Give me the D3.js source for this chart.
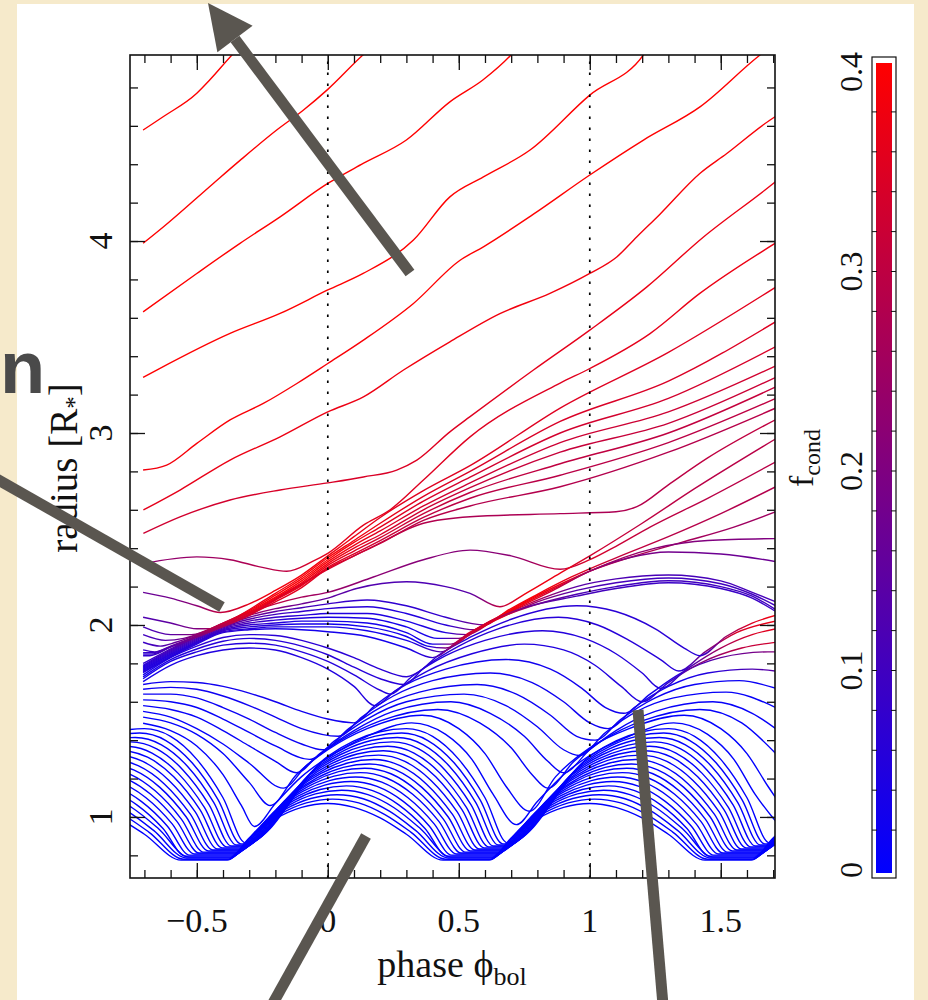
<!DOCTYPE html>
<html><head><meta charset="utf-8">
<script src="https://cdn.jsdelivr.net/npm/d3@7"></script>
<style>body{margin:0;background:#f6eacb}svg{display:block}</style>
</head><body>
<svg id="c" width="928" height="1000"></svg>
<script>
// ---------- tick values / labels ----------
const phaseMinorTicks=[-0.7,-0.6,-0.5,-0.4,-0.3,-0.2,-0.1,0,0.1,0.2,0.3,0.4,0.5,0.6,0.7,0.8,0.9,1.0,1.1,1.2,1.3,1.4,1.5,1.6,1.7];
const phaseMajorTicks=[-0.5,0,0.5,1,1.5];
const phaseTickLabels=["\u22120.5","0","0.5","1","1.5"];
const radiusMinorTicks=[0.8,1.0,1.2,1.4,1.6,1.8,2.0,2.2,2.4,2.6,2.8,3.0,3.2,3.4,3.6,3.8,4.0,4.2,4.4,4.6,4.8];
const radiusMajorTicks=[1,2,3,4];
const radiusTickLabels=["1","2","3","4"];
const fcondMajorTicks=[0,0.1,0.2,0.3,0.4];
const fcondTickLabels=["0","0.1","0.2","0.3","0.4"];
const fcondMinorTicks=[0.02,0.04,0.06,0.08,0.1,0.12,0.14,0.16,0.18,0.2,0.22,0.24,0.26,0.28,0.3,0.32,0.34,0.36,0.38];
const refPhases=[0,1];

// ---------- outer (escaping) shells: [phase, radius, fcond] ----------
const topShells=[
 [[-0.705,4.578,0.4],[-0.63,4.646,0.4],[-0.5,4.77,0.4],[-0.45,4.84,0.4],[-0.365,4.97,0.4],[-0.33,5.02,0.4]],
 [[-0.705,3.988,0.4],[-0.628,4.073,0.4],[-0.437,4.30,0.4],[-0.335,4.42,0.4],[-0.195,4.578,0.4],[-0.095,4.68,0.4],[0,4.79,0.4],[0.135,4.97,0.4],[0.16,5.0,0.4]],
 [[-0.705,3.631,0.4],[-0.5,3.831,0.4],[-0.335,3.988,0.4],[-0.182,4.126,0.4],[0,4.30,0.4],[0.135,4.404,0.4],[0.30,4.526,0.4],[0.466,4.725,0.4],[0.593,4.84,0.4],[0.70,4.97,0.4],[0.72,5.0,0.4]],
 [[-0.705,3.29,0.4],[-0.653,3.328,0.4],[-0.373,3.519,0.4],[-0.182,3.623,0.4],[0,3.745,0.4],[0.135,3.831,0.4],[0.327,4.005,0.4],[0.466,4.23,0.4],[0.594,4.334,0.4],[0.772,4.474,0.4],[1.0,4.76,0.4],[1.205,4.97,0.4],[1.22,5.0,0.4]],
 [[-0.705,2.807,0.38],[-0.615,2.833,0.38],[-0.5,2.946,0.39],[-0.373,3.068,0.39],[-0.246,3.154,0.39],[-0.118,3.258,0.39],[0,3.362,0.39],[0.136,3.484,0.39],[0.327,3.675,0.4],[0.505,3.90,0.4],[0.594,3.97,0.4],[0.785,4.14,0.4],[1.0,4.344,0.4],[1.205,4.526,0.4],[1.422,4.70,0.4],[1.651,4.97,0.4],[1.7,5.02,0.4]],
 [[-0.704,2.599,0.36],[-0.564,2.703,0.36],[-0.373,2.859,0.37],[-0.182,2.98,0.37],[0,3.11,0.37],[0.136,3.188,0.37],[0.289,3.328,0.38],[0.466,3.475,0.38],[0.657,3.622,0.38],[0.848,3.727,0.38],[1.0,3.831,0.38],[1.103,3.917,0.38],[1.179,4.021,0.38],[1.268,4.14,0.39],[1.42,4.352,0.39],[1.523,4.456,0.39],[1.669,4.612,0.39],[1.71,4.65,0.39]],
 [[-0.704,2.477,0.32],[-0.564,2.563,0.33],[-0.373,2.651,0.33],[-0.182,2.703,0.34],[0,2.74,0.34],[0.136,2.771,0.34],[0.263,2.807,0.34],[0.34,2.859,0.35],[0.466,3.006,0.35],[0.543,3.085,0.35],[0.785,3.328,0.36],[1.0,3.536,0.36],[1.217,3.76,0.37],[1.433,4.02,0.37],[1.669,4.266,0.37],[1.71,4.31,0.37]]
];

// ---------- shells lifted by the shock (fan) ----------
const fanShells=[
 [[-0.705,2.32,0.22],[-0.5,2.355,0.24],[-0.373,2.34,0.26],[-0.25,2.3,0.28],[-0.157,2.28,0.3],[-0.06,2.33,0.34],[0,2.373,0.36],[0.136,2.52,0.36],[0.238,2.6,0.35],[0.365,2.755,0.35],[0.543,2.98,0.35],[0.887,3.26,0.35],[1.0,3.336,0.36],[1.23,3.518,0.36],[1.42,3.727,0.37],[1.71,3.99,0.37]],
 [[-0.705,2.17,0.16],[-0.6,2.14,0.18],[-0.5,2.1,0.22],[-0.41,2.065,0.3],[-0.3,2.11,0.36],[-0.2,2.18,0.38],[-0.1,2.26,0.38],[0,2.36,0.38],[0.1,2.46,0.37],[0.2,2.56,0.36],[0.365,2.70,0.35],[0.543,2.83,0.35],[0.887,3.13,0.35],[1.3,3.42,0.35],[1.71,3.76,0.36]],
 [[-0.705,2.04,0.12],[-0.6,2.01,0.15],[-0.5,1.98,0.2],[-0.44,1.98,0.26],[-0.35,2.04,0.34],[-0.2,2.165,0.38],[-0.1,2.25,0.39],[0,2.35,0.39],[0.1,2.44,0.38],[0.2,2.53,0.37],[0.365,2.67,0.35],[0.543,2.80,0.34],[0.887,3.06,0.34],[1.3,3.27,0.34],[1.71,3.58,0.35]],
 [[-0.705,1.99,0.11],[-0.6,1.95,0.14],[-0.52,1.95,0.2],[-0.4,2.01,0.3],[-0.3,2.075,0.37],[-0.2,2.155,0.39],[-0.1,2.24,0.39],[0,2.34,0.39],[0.1,2.43,0.38],[0.2,2.51,0.36],[0.365,2.645,0.34],[0.543,2.77,0.33],[0.887,3.0,0.33],[1.3,3.18,0.33],[1.71,3.45,0.34]],
 [[-0.705,1.95,0.1],[-0.62,1.92,0.13],[-0.55,1.93,0.18],[-0.45,1.98,0.28],[-0.3,2.07,0.37],[-0.2,2.145,0.39],[-0.1,2.23,0.39],[0,2.33,0.39],[0.1,2.415,0.37],[0.2,2.49,0.35],[0.365,2.62,0.33],[0.543,2.74,0.32],[0.887,2.95,0.32],[1.3,3.11,0.32],[1.71,3.35,0.33]],
 [[-0.705,1.91,0.09],[-0.64,1.89,0.12],[-0.58,1.91,0.16],[-0.45,1.975,0.27],[-0.3,2.065,0.36],[-0.2,2.14,0.38],[-0.1,2.22,0.38],[0,2.32,0.38],[0.1,2.40,0.36],[0.2,2.47,0.34],[0.365,2.60,0.32],[0.543,2.715,0.31],[0.887,2.90,0.31],[1.3,3.05,0.31],[1.71,3.29,0.32]],
 [[-0.705,1.87,0.08],[-0.66,1.86,0.1],[-0.6,1.89,0.15],[-0.45,1.97,0.26],[-0.3,2.06,0.35],[-0.2,2.135,0.37],[-0.1,2.21,0.37],[0,2.31,0.37],[0.1,2.385,0.35],[0.2,2.455,0.33],[0.365,2.58,0.31],[0.543,2.69,0.3],[0.887,2.84,0.3],[1.3,3.0,0.3],[1.71,3.24,0.31]],
 [[-0.705,1.855,0.075],[-0.67,1.855,0.09],[-0.6,1.887,0.14],[-0.45,1.967,0.25],[-0.3,2.055,0.34],[-0.2,2.13,0.36],[-0.1,2.205,0.36],[0,2.3,0.36],[0.1,2.37,0.34],[0.2,2.44,0.32],[0.365,2.56,0.3],[0.543,2.66,0.29],[0.887,2.78,0.29],[1.3,2.95,0.29],[1.71,3.18,0.3]],
 [[-0.705,1.848,0.07],[-0.675,1.848,0.085],[-0.6,1.886,0.135],[-0.45,1.966,0.245],[-0.3,2.052,0.335],[-0.2,2.12,0.355],[-0.1,2.195,0.355],[0,2.295,0.35],[0.1,2.36,0.33],[0.2,2.425,0.31],[0.365,2.545,0.29],[0.543,2.62,0.28],[0.887,2.72,0.28],[1.3,2.9,0.28],[1.71,3.13,0.29]],
 [[-0.705,1.84,0.07],[-0.68,1.84,0.08],[-0.6,1.885,0.13],[-0.45,1.965,0.24],[-0.3,2.05,0.33],[-0.144,2.18,0.35],[0,2.29,0.34],[0.174,2.41,0.31],[0.365,2.53,0.28],[0.543,2.564,0.27],[0.887,2.58,0.27],[1.1,2.59,0.27],[1.18,2.616,0.28],[1.3,2.73,0.29],[1.45,2.87,0.3],[1.71,3.07,0.3]]
];

// ---------- shells peeling below the red band, then hit by the next shock ----------
const upperShells=[
 [[-0.705,1.80,0.07],[-0.6,1.875,0.12],[-0.5,1.945,0.2],[-0.4,2.01,0.28],[-0.3,2.065,0.32],[-0.2,2.11,0.3],[-0.1,2.145,0.26],[0,2.17,0.24],[0.174,2.25,0.22],[0.365,2.34,0.21],[0.543,2.39,0.21],[0.7,2.36,0.22],[0.887,2.29,0.3],[1.0,2.34,0.34],[1.1,2.41,0.32],[1.23,2.51,0.3],[1.45,2.66,0.29],[1.71,2.85,0.29]],
 [[-0.705,1.79,0.06],[-0.6,1.87,0.11],[-0.5,1.94,0.18],[-0.4,2.0,0.24],[-0.3,2.05,0.24],[-0.2,2.085,0.2],[-0.1,2.11,0.17],[0,2.14,0.15],[0.11,2.19,0.13],[0.3,2.225,0.12],[0.45,2.2,0.12],[0.543,2.165,0.14],[0.657,2.095,0.3],[0.75,2.16,0.38],[0.887,2.27,0.37],[1.0,2.36,0.33],[1.2,2.53,0.3],[1.4,2.71,0.29],[1.71,2.97,0.29]],
 [[-0.705,1.785,0.06],[-0.6,1.865,0.1],[-0.5,1.935,0.16],[-0.4,1.995,0.2],[-0.3,2.04,0.18],[-0.2,2.07,0.14],[-0.1,2.09,0.11],[0,2.11,0.09],[0.15,2.13,0.08],[0.3,2.1,0.07],[0.45,2.04,0.08],[0.6,2.0,0.2],[0.68,2.07,0.38],[0.8,2.16,0.39],[0.93,2.25,0.36],[1.1,2.35,0.31],[1.3,2.46,0.29],[1.5,2.58,0.28],[1.71,2.72,0.28]],
 [[-0.705,1.78,0.05],[-0.6,1.86,0.09],[-0.5,1.93,0.14],[-0.4,1.99,0.16],[-0.3,2.03,0.14],[-0.2,2.055,0.1],[-0.1,2.07,0.08],[0,2.085,0.07],[0.15,2.095,0.06],[0.3,2.06,0.05],[0.45,2.0,0.06],[0.56,1.975,0.2],[0.66,2.05,0.38],[0.78,2.14,0.39],[0.9,2.22,0.36],[1.0,2.28,0.32],[1.15,2.35,0.28],[1.35,2.43,0.26],[1.55,2.51,0.25],[1.71,2.59,0.25]],
 [[-0.705,1.775,0.05],[-0.6,1.855,0.08],[-0.5,1.925,0.12],[-0.4,1.985,0.14],[-0.3,2.02,0.12],[-0.2,2.04,0.08],[-0.1,2.05,0.06],[0,2.06,0.05],[0.15,2.06,0.05],[0.3,2.02,0.04],[0.45,1.96,0.05],[0.53,1.95,0.2],[0.64,2.03,0.38],[0.76,2.12,0.38],[0.88,2.2,0.34],[1.0,2.28,0.28],[1.25,2.4,0.22],[1.45,2.44,0.2],[1.71,2.45,0.2]],
 [[-0.705,1.77,0.05],[-0.6,1.85,0.07],[-0.5,1.92,0.1],[-0.4,1.98,0.12],[-0.3,2.01,0.1],[-0.2,2.025,0.07],[-0.1,2.035,0.05],[0,2.04,0.04],[0.15,2.035,0.04],[0.3,1.99,0.03],[0.42,1.93,0.04],[0.5,1.93,0.2],[0.62,2.02,0.38],[0.74,2.1,0.38],[0.86,2.18,0.32],[1.0,2.28,0.24],[1.15,2.35,0.2],[1.3,2.38,0.18],[1.5,2.37,0.17],[1.71,2.33,0.17]],
 [[-0.705,1.765,0.05],[-0.6,1.845,0.06],[-0.5,1.915,0.08],[-0.4,1.975,0.1],[-0.3,2.0,0.08],[-0.2,2.01,0.06],[-0.1,2.02,0.04],[0,2.02,0.04],[0.15,2.01,0.03],[0.3,1.96,0.03],[0.4,1.9,0.03],[0.47,1.9,0.2],[0.58,1.99,0.37],[0.7,2.07,0.37],[0.82,2.14,0.25],[0.95,2.2,0.14],[1.1,2.24,0.12],[1.3,2.26,0.11],[1.5,2.23,0.11],[1.62,2.17,0.11],[1.71,2.12,0.11]],
 [[-0.705,1.76,0.05],[-0.6,1.84,0.06],[-0.5,1.91,0.07],[-0.4,1.97,0.09],[-0.3,1.99,0.07],[-0.2,2.0,0.05],[-0.1,2.005,0.04],[0,2.005,0.03],[0.15,1.99,0.03],[0.3,1.94,0.03],[0.38,1.89,0.03],[0.45,1.88,0.2],[0.56,1.97,0.36],[0.68,2.05,0.36],[0.8,2.12,0.22],[0.95,2.18,0.13],[1.1,2.22,0.11],[1.3,2.245,0.1],[1.5,2.215,0.1],[1.62,2.16,0.1],[1.71,2.1,0.1]],
 [[-0.705,1.755,0.05],[-0.6,1.835,0.06],[-0.5,1.905,0.07],[-0.4,1.965,0.08],[-0.3,1.98,0.06],[-0.2,1.99,0.05],[-0.1,1.99,0.03],[0,1.99,0.03],[0.15,1.97,0.03],[0.3,1.92,0.03],[0.43,1.86,0.12],[0.54,1.96,0.35],[0.66,2.04,0.35],[0.78,2.1,0.2],[0.95,2.16,0.12],[1.1,2.2,0.1],[1.3,2.23,0.1],[1.5,2.2,0.1],[1.62,2.15,0.1],[1.71,2.08,0.1]],
 [[-0.705,1.752,0.05],[-0.6,1.832,0.05],[-0.5,1.9,0.06],[-0.4,1.96,0.07],[-0.3,1.975,0.05],[-0.2,1.98,0.04],[-0.1,1.975,0.03],[0,1.965,0.03],[0.15,1.94,0.03],[0.3,1.88,0.03],[0.4,1.83,0.08],[0.5,1.92,0.3],[0.62,2.02,0.33],[0.75,2.09,0.18],[0.95,2.15,0.11],[1.1,2.19,0.1],[1.3,2.22,0.09],[1.5,2.19,0.09],[1.62,2.14,0.09],[1.71,2.07,0.09]]
];

// ---------- middle shells (mostly blue), [phase, radius(, fcond)] ----------
const midShells=[
 [[-0.705,1.488],[-0.6,1.45],[-0.5,1.37],[-0.4,1.22],[-0.33,1.06],[-0.28,0.95],[-0.2,1.07],[-0.1,1.21],[0,1.31],[0.15,1.42],[0.32,1.49],[0.45,1.43],[0.55,1.3],[0.63,1.12],[0.72,0.96],[0.8,1.08],[0.9,1.22],[1.0,1.32],[1.15,1.42],[1.32,1.49],[1.45,1.43],[1.55,1.3],[1.63,1.12],[1.72,0.96]],
 [[-0.705,1.52],[-0.6,1.49],[-0.5,1.43],[-0.4,1.33],[-0.3,1.18],[-0.22,1.06],[-0.12,1.22],[0,1.35],[0.15,1.46],[0.36,1.53],[0.5,1.46],[0.6,1.33],[0.68,1.16],[0.77,1.03],[0.87,1.21],[1.0,1.36],[1.15,1.46],[1.36,1.53],[1.5,1.46],[1.6,1.33],[1.68,1.16],[1.72,1.08]],
 [[-0.705,1.55],[-0.6,1.52],[-0.5,1.46],[-0.4,1.38],[-0.3,1.28],[-0.17,1.15],[-0.08,1.27],[0.05,1.4],[0.2,1.5],[0.42,1.56],[0.58,1.49],[0.7,1.36],[0.78,1.22],[0.84,1.15],[0.94,1.29],[1.05,1.4],[1.2,1.5],[1.42,1.56],[1.58,1.49],[1.71,1.33]],
 [[-0.705,1.58],[-0.6,1.56],[-0.5,1.52],[-0.4,1.45],[-0.3,1.37],[-0.2,1.29],[-0.12,1.23],[-0.03,1.33],[0.1,1.45],[0.25,1.55],[0.47,1.6],[0.62,1.54],[0.75,1.42],[0.84,1.29],[0.9,1.23],[1.0,1.35],[1.1,1.45],[1.25,1.55],[1.47,1.6],[1.62,1.54],[1.71,1.46]],
 [[-0.705,1.61],[-0.6,1.6],[-0.5,1.57],[-0.4,1.51],[-0.3,1.44],[-0.2,1.37],[-0.07,1.3],[0.03,1.4],[0.15,1.51],[0.3,1.6],[0.52,1.64],[0.68,1.58],[0.8,1.47],[0.9,1.35],[0.96,1.32],[1.06,1.44],[1.18,1.55],[1.32,1.62],[1.52,1.65],[1.71,1.57]],
 [[-0.705,1.64],[-0.6,1.64],[-0.5,1.62],[-0.4,1.57],[-0.3,1.51],[-0.2,1.44],[-0.1,1.38],[-0.02,1.35],[0.08,1.46],[0.2,1.57],[0.35,1.65],[0.57,1.69],[0.72,1.64],[0.85,1.53],[0.95,1.42],[1.02,1.4],[1.12,1.51],[1.25,1.62],[1.4,1.69],[1.57,1.71],[1.71,1.67]],
 [[-0.705,1.665],[-0.6,1.675],[-0.5,1.665],[-0.4,1.63],[-0.3,1.58],[-0.2,1.52],[-0.1,1.46],[0.04,1.42],[0.13,1.52],[0.25,1.63],[0.4,1.71],[0.62,1.75],[0.78,1.7],[0.9,1.6],[1.0,1.49],[1.07,1.46],[1.17,1.57],[1.3,1.68],[1.45,1.75,0.05],[1.62,1.77,0.12],[1.71,1.76,0.14]],
 [[-0.705,1.69],[-0.6,1.705],[-0.5,1.7],[-0.4,1.68],[-0.3,1.645],[-0.2,1.6],[-0.1,1.55],[0,1.51],[0.1,1.49],[0.18,1.58],[0.3,1.69],[0.45,1.77],[0.68,1.82],[0.85,1.77],[0.97,1.67],[1.06,1.57],[1.13,1.54],[1.23,1.64],[1.35,1.75,0.06],[1.5,1.83,0.15],[1.68,1.86,0.2],[1.71,1.86,0.2]],
 [[-0.705,1.705,0.03],[-0.6,1.79,0.04],[-0.5,1.84],[-0.4,1.87],[-0.3,1.88],[-0.2,1.87],[-0.1,1.83],[0,1.77],[0.1,1.68],[0.18,1.58],[0.26,1.66],[0.38,1.76],[0.55,1.85],[0.75,1.9],[0.9,1.87],[1.02,1.79],[1.12,1.68],[1.2,1.6],[1.3,1.7,0.08],[1.42,1.8,0.2],[1.58,1.88,0.3],[1.71,1.91,0.33]],
 [[-0.705,1.72,0.03],[-0.6,1.81,0.04],[-0.5,1.86],[-0.4,1.895],[-0.3,1.905],[-0.2,1.895],[-0.1,1.86],[0,1.81],[0.1,1.74],[0.2,1.66],[0.24,1.64],[0.32,1.73],[0.45,1.84],[0.6,1.92],[0.82,1.97],[0.98,1.93],[1.1,1.85],[1.2,1.75],[1.27,1.67],[1.37,1.77,0.1],[1.5,1.88,0.26],[1.62,1.95,0.34],[1.71,1.98,0.36]],
 [[-0.705,1.73,0.03],[-0.6,1.82,0.05],[-0.5,1.875],[-0.4,1.915],[-0.3,1.93],[-0.2,1.92],[-0.1,1.89],[0,1.845],[0.1,1.78],[0.2,1.72],[0.29,1.69],[0.37,1.78],[0.5,1.89],[0.65,1.98],[0.88,2.04],[1.03,2.0],[1.15,1.92],[1.27,1.82],[1.34,1.76],[1.44,1.86,0.2],[1.56,1.96,0.34],[1.71,2.02,0.37]],
 [[-0.705,1.74,0.03],[-0.6,1.83,0.05],[-0.5,1.89],[-0.4,1.935],[-0.3,1.95],[-0.2,1.945],[-0.1,1.92],[0,1.88],[0.1,1.83],[0.2,1.77],[0.3,1.73],[0.34,1.75],[0.42,1.84],[0.55,1.94],[0.7,2.03],[0.95,2.1],[1.1,2.07],[1.25,1.98],[1.36,1.88],[1.42,1.84],[1.52,1.94,0.25],[1.62,2.01,0.35],[1.71,2.05,0.38]]
];
const midShellF=[0,0,0.005,0.01,0.01,0.015,0.02,0.025,0.05,0.055,0.06,0.065];

// ---------- innermost shells: one pulsation cycle each [phase, radius]; the pattern repeats each period ----------
const innerCycles=[
 [[-0.384,0.775],[-0.3,0.89],[-0.2,0.99],[-0.1,1.05],[0,1.07],[0.1,1.05],[0.2,0.995],[0.3,0.91],[0.44,0.775]],
 [[-0.38,0.78],[-0.282,0.915],[-0.182,1.014],[-0.082,1.073],[0.018,1.093],[0.118,1.073],[0.218,1.012],[0.318,0.92],[0.45,0.78]],
 [[-0.376,0.786],[-0.265,0.94],[-0.165,1.038],[-0.065,1.096],[0.035,1.116],[0.135,1.095],[0.235,1.03],[0.335,0.93],[0.46,0.786]],
 [[-0.372,0.791],[-0.247,0.965],[-0.147,1.062],[-0.047,1.12],[0.053,1.139],[0.153,1.116],[0.253,1.048],[0.353,0.94],[0.47,0.791]],
 [[-0.367,0.796],[-0.229,0.99],[-0.129,1.086],[-0.029,1.143],[0.071,1.162],[0.171,1.137],[0.271,1.063],[0.371,0.94],[0.456,0.796]],
 [[-0.364,0.801],[-0.212,1.016],[-0.112,1.11],[-0.012,1.166],[0.088,1.185],[0.188,1.159],[0.288,1.081],[0.388,0.952],[0.473,0.801]],
 [[-0.358,0.807],[-0.194,1.041],[-0.094,1.134],[0.006,1.189],[0.106,1.208],[0.206,1.181],[0.306,1.1],[0.406,0.964],[0.491,0.807]],
 [[-0.354,0.812],[-0.176,1.066],[-0.076,1.158],[0.024,1.213],[0.124,1.231],[0.224,1.203],[0.324,1.118],[0.424,0.977],[0.509,0.812]],
 [[-0.35,0.817],[-0.159,1.091],[-0.059,1.182],[0.041,1.236],[0.141,1.254],[0.241,1.225],[0.341,1.136],[0.441,0.989],[0.526,0.817]],
 [[-0.344,0.823],[-0.141,1.115],[-0.041,1.204],[0.059,1.258],[0.159,1.276],[0.259,1.245],[0.359,1.154],[0.459,1.001],[0.544,0.823]],
 [[-0.341,0.828],[-0.124,1.14],[-0.024,1.228],[0.076,1.281],[0.176,1.299],[0.276,1.267],[0.376,1.172],[0.476,1.013],[0.561,0.828]],
 [[-0.336,0.833],[-0.106,1.165],[-0.006,1.252],[0.094,1.305],[0.194,1.322],[0.294,1.289],[0.394,1.19],[0.494,1.026],[0.579,0.833]],
 [[-0.331,0.839],[-0.088,1.19],[0.012,1.276],[0.112,1.328],[0.212,1.345],[0.312,1.311],[0.412,1.209],[0.512,1.038],[0.597,0.839]],
 [[-0.327,0.844],[-0.071,1.216],[0.029,1.3],[0.129,1.351],[0.229,1.368],[0.329,1.333],[0.429,1.227],[0.529,1.05],[0.614,0.844]],
 [[-0.323,0.849],[-0.053,1.241],[0.047,1.324],[0.147,1.374],[0.247,1.391],[0.347,1.355],[0.447,1.245],[0.547,1.063],[0.632,0.849]],
 [[-0.318,0.854],[-0.035,1.266],[0.065,1.348],[0.165,1.398],[0.265,1.414],[0.365,1.376],[0.465,1.263],[0.565,1.075],[0.651,0.854]],
 [[-0.314,0.86],[-0.018,1.291],[0.082,1.372],[0.182,1.421],[0.282,1.437],[0.382,1.398],[0.482,1.282],[0.582,1.088],[0.668,0.86]],
 [[-0.31,0.865],[0,1.316],[0.1,1.396],[0.2,1.444],[0.3,1.46],[0.4,1.42],[0.5,1.3],[0.6,1.1],[0.686,0.865]]
];
const innerCycleOffsets=[-1,0,1,2];

// ---------- drawing ----------
const W=928,H=1000;
const svg=d3.select("#c");
const x=d3.scaleLinear().domain([-0.755,1.707]).range([130,775]);
const y=d3.scaleLinear().domain([0.682,4.969]).range([878,55]);
const col=d3.scaleLinear().domain([0,0.4]).range(["#0000ff","#ff0000"]).clamp(true);
const serif="'Liberation Serif','DejaVu Serif',serif";

svg.append("rect").attr("width",W).attr("height",H).attr("fill","#f6eacb");
svg.append("rect").attr("x",17).attr("y",4).attr("width",897).attr("height",1000).attr("fill","#ffffff");
const defs=svg.append("defs");
defs.append("clipPath").attr("id","clip").append("rect").attr("x",130).attr("y",55).attr("width",645).attr("height",823);
const plot=svg.append("g").attr("clip-path","url(#clip)");
const lineGen=d3.line().x(d=>x(d[0])).y(d=>y(d[1])).curve(d3.curveMonotoneX);
let gid=0;
function drawShell(pts,defF){
  const fs=pts.map(p=>p.length>2?p[2]:defF);
  let stroke;
  if(fs.every(f=>f===fs[0])) stroke=col(fs[0]);
  else{
    const id="g"+(gid++);
    const x1=x(pts[0][0]),x2=x(pts[pts.length-1][0]);
    const g=defs.append("linearGradient").attr("id",id).attr("gradientUnits","userSpaceOnUse")
      .attr("x1",x1).attr("x2",x2).attr("y1",0).attr("y2",0);
    let last=0;
    pts.forEach((p,i)=>{let o=Math.max(last,(x(p[0])-x1)/(x2-x1));last=o;g.append("stop").attr("offset",o).attr("stop-color",col(fs[i]));});
    stroke="url(#"+id+")";
  }
  plot.append("path").attr("d",lineGen(pts)).attr("fill","none").attr("stroke",stroke).attr("stroke-width",1.4);
}
innerCycles.forEach(c=>{const pts=[];innerCycleOffsets.forEach(o=>c.forEach(k=>pts.push([k[0]+o,k[1]])));drawShell(pts,0);});
midShells.forEach((s,i)=>drawShell(s,midShellF[i]));
upperShells.forEach(s=>drawShell(s,0.2));
fanShells.forEach(s=>drawShell(s,0.3));
topShells.forEach(s=>drawShell(s,0.4));

// dotted reference lines
refPhases.forEach(p=>svg.append("line").attr("x1",x(p)).attr("x2",x(p)).attr("y1",878).attr("y2",55)
  .attr("stroke","#000").attr("stroke-width",1.7).attr("stroke-dasharray","2.5,8.5"));

// axes ticks (inward)
const axG=svg.append("g");
function ticks(axis,vals,size,tr){
  axG.append("g").attr("transform",tr).call(axis.tickValues(vals).tickSize(size).tickFormat(""))
   .call(g=>{g.select(".domain").remove();g.selectAll("line").attr("stroke","#111").attr("stroke-width",1.3);});
}
ticks(d3.axisBottom(x),phaseMinorTicks,-8,"translate(0,878)");
ticks(d3.axisBottom(x),phaseMajorTicks,-15,"translate(0,878)");
ticks(d3.axisTop(x),phaseMinorTicks,-8,"translate(0,55)");
ticks(d3.axisTop(x),phaseMajorTicks,-15,"translate(0,55)");
ticks(d3.axisLeft(y),radiusMinorTicks,-8,"translate(130,0)");
ticks(d3.axisLeft(y),radiusMajorTicks,-15,"translate(130,0)");
ticks(d3.axisRight(y),radiusMinorTicks,-8,"translate(775,0)");
ticks(d3.axisRight(y),radiusMajorTicks,-15,"translate(775,0)");
svg.append("rect").attr("x",130).attr("y",55).attr("width",645).attr("height",823)
  .attr("fill","none").attr("stroke","#111").attr("stroke-width",1.6);

// tick labels
phaseMajorTicks.forEach((v,i)=>svg.append("text").attr("x",x(v)).attr("y",932).attr("text-anchor","middle")
  .attr("font-family",serif).attr("font-size",34).attr("fill","#111").text(phaseTickLabels[i]));
radiusMajorTicks.forEach((v,i)=>svg.append("text").attr("transform","translate(112,"+y(v)+") rotate(-90)")
  .attr("text-anchor","middle").attr("font-family",serif).attr("font-size",34).attr("fill","#111").text(radiusTickLabels[i]));

// axis titles
const xt=svg.append("text").attr("x",452).attr("y",977).attr("text-anchor","middle").attr("font-family",serif).attr("font-size",38).attr("fill","#111");
xt.append("tspan").text("phase \u03D5");
xt.append("tspan").attr("font-size",26).attr("dy",8).text("bol");
const yt=svg.append("text").attr("transform","translate(77,468) rotate(-90)").attr("text-anchor","middle").attr("font-family",serif).attr("font-size",39).attr("fill","#111");
yt.append("tspan").text("radius [R");
yt.append("tspan").attr("font-size",25).attr("dy",6).text("*");
yt.append("tspan").attr("dy",-6).text("]");

// colour bar
const cy=d3.scaleLinear().domain([0,0.4]).range([870,72]);
const cg=defs.append("linearGradient").attr("id","cbar").attr("x1",0).attr("x2",0).attr("y1",1).attr("y2",0);
cg.append("stop").attr("offset",0).attr("stop-color",col(0));
cg.append("stop").attr("offset",1).attr("stop-color",col(0.4));
svg.append("rect").attr("x",876).attr("y",cy(0.4)-9).attr("width",16).attr("height",cy(0)-cy(0.4)+12).attr("fill","url(#cbar)");
svg.append("rect").attr("x",872).attr("y",57).attr("width",24).attr("height",821).attr("fill","none").attr("stroke","#111").attr("stroke-width",1.2);
fcondMinorTicks.forEach(v=>{
  svg.append("line").attr("x1",872).attr("x2",877).attr("y1",cy(v)).attr("y2",cy(v)).attr("stroke","#111").attr("stroke-width",1);
  svg.append("line").attr("x1",891).attr("x2",896).attr("y1",cy(v)).attr("y2",cy(v)).attr("stroke","#111").attr("stroke-width",1);
});
fcondMajorTicks.forEach((v,i)=>svg.append("text").attr("transform","translate(862,"+cy(v)+") rotate(-90)")
  .attr("text-anchor","middle").attr("font-family",serif).attr("font-size",32).attr("fill","#111").text(fcondTickLabels[i]));
const ft=svg.append("text").attr("transform","translate(813,458) rotate(-90)").attr("text-anchor","middle").attr("font-family",serif).attr("font-size",34).attr("fill","#111");
ft.append("tspan").text("f");
ft.append("tspan").attr("font-size",24).attr("dy",7).text("cond");

// annotation arrows and text
const ann=svg.append("g").attr("stroke","#5a5650").attr("stroke-width",11).attr("stroke-linecap","butt");
ann.append("line").attr("x1",410).attr("y1",273).attr("x2",235).attr("y2",39);
svg.append("polygon").attr("points","208,3 252.6,25.8 217.4,52.2").attr("fill","#5a5650");
ann.append("line").attr("x1",222).attr("y1",607).attr("x2",-5).attr("y2",478);
ann.append("line").attr("x1",366).attr("y1",836).attr("x2",272).attr("y2",1005);
ann.append("line").attr("x1",638).attr("y1",710).attr("x2",663).attr("y2",1005);
svg.append("text").attr("x",0).attr("y",393).attr("text-anchor","start").attr("font-family","'Liberation Sans',Arial,sans-serif")
  .attr("font-weight","bold").attr("font-size",74).attr("fill","#4a4a4a").text("n");
</script>
</body></html>
